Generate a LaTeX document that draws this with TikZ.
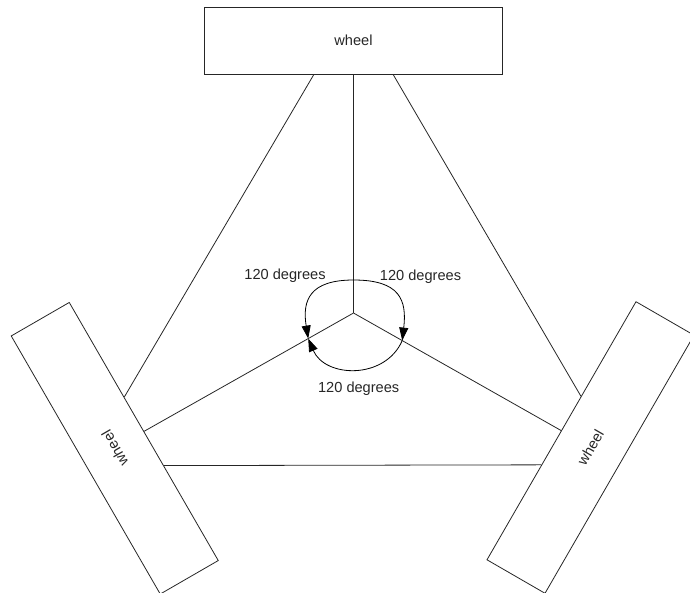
\documentclass[tikz,border=0pt]{standalone}
\usepackage{fontspec}
\setmainfont{Liberation Sans}
\usetikzlibrary{calc,arrows.meta}
\begin{document}
\begin{tikzpicture}[x=1pt,y=-1pt,
  wheelbox/.style={draw=black!85, line width=0.8pt, minimum width=298pt, minimum height=67pt, inner sep=0pt, font=\fontsize{14.6}{17}\selectfont, text=black!85},
  link/.style={draw=black!85, line width=0.8pt},
  turn/.style={draw=black, line width=0.8pt, -{Triangle[length=13pt,width=9pt]}},
  lbl/.style={font=\fontsize{14.6}{17}\selectfont, text=black!85, anchor=base, inner sep=0pt}]
\useasboundingbox (0,0) rectangle (690,593);
\node[wheelbox] (top) at (353.5,40.5) {wheel};
\node[wheelbox, rotate=120] (left) at (114.75,448.25) {wheel};
\node[wheelbox, rotate=60] (right) at (590.5,447.5) {wheel};
\coordinate (c) at (353.5,313);
\draw[link] (top.south) -- (c);
\draw[link] (c) -- (left.south);
\draw[link] (c) -- (right.north);
\draw[link] ($(top.south)!0.265!(top.south west)$) -- ($(left.south)!0.265!(left.south east)$);
\draw[link] ($(top.south)!0.265!(top.south east)$) -- ($(right.north)!0.265!(right.north east)$);
\draw[link] ($(left.south)!0.265!(left.south west)$) -- ($(right.north)!0.265!(right.north west)$);
\coordinate (aT) at ($(c)!33pt!(top.south)$);
\coordinate (aL) at ($(c)!52pt!(left.south)$);
\coordinate (aR) at ($(c)!56pt!(right.north)$);
\draw[turn] (aT) .. controls (310,280) and (302,300) .. (aL);
\draw[turn] (aT) .. controls (400,280) and (407,300) .. (aR);
\draw[turn] (aR) .. controls (385,380) and (325,378) .. (aL);
\node[lbl] (l1) at (285,279.3) {120 degrees};
\node[lbl] (l2) at (420.5,280.5) {120 degrees};
\node[lbl] (l3) at (358.7,392) {120 degrees};
\end{tikzpicture}
\end{document}
